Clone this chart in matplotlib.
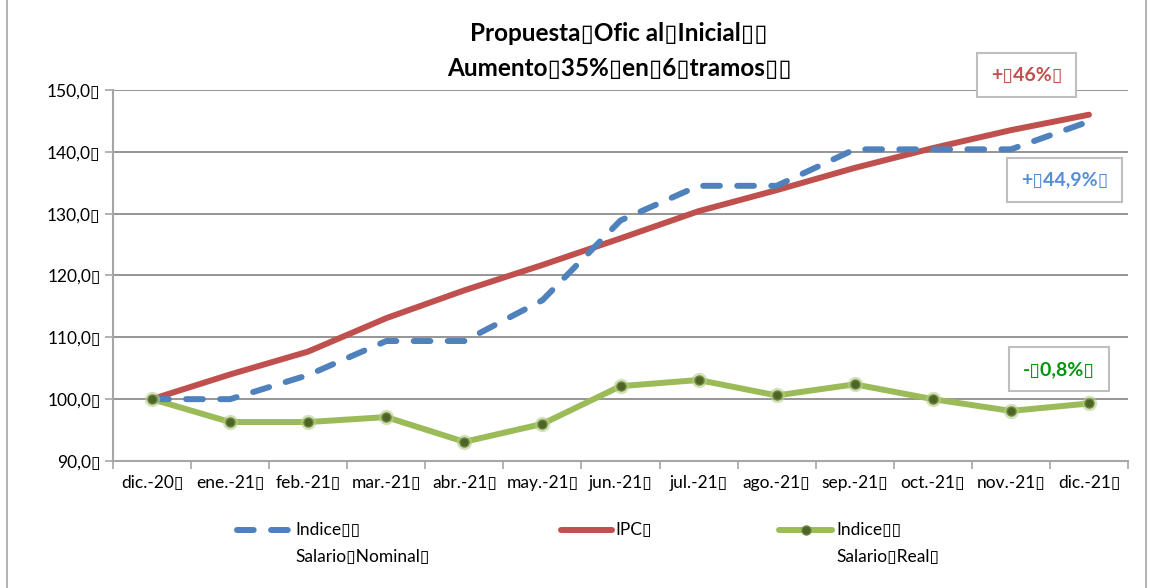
import matplotlib
matplotlib.use("Agg")
import matplotlib.pyplot as plt
from matplotlib.patches import Rectangle

plt.rcParams['font.family'] = ['Lato', 'DejaVu Sans']

B = "\u25af"
categories = ["dic.-20", "ene.-21", "feb.-21", "mar.-21", "abr.-21", "may.-21", "jun.-21",
              "jul.-21", "ago.-21", "sep.-21", "oct.-21", "nov.-21", "dic.-21"]
nominal = [100.0, 100.0, 103.9, 109.4, 109.4, 116.0, 128.9, 134.5, 134.5, 140.4, 140.4, 140.4, 144.9]
ipc = [100.0, 104.0, 107.7, 113.1, 117.6, 121.7, 126.0, 130.4, 133.8, 137.4, 140.6, 143.5, 146.0]
real = [100.0, 96.3, 96.3, 97.1, 93.1, 96.0, 102.1, 103.1, 100.6, 102.4, 100.0, 98.1, 99.3]
yticks = [90, 100, 110, 120, 130, 140, 150]

DASH = (2.8, 2.9)
fig = plt.figure(figsize=(11.51, 5.88), dpi=100)
fig.patches.append(Rectangle((0.006, -0.01), 0.99, 1.02, transform=fig.transFigure,
                             fill=False, edgecolor="#a6a6a6", linewidth=1.2))
ax = fig.add_axes([0.0982, 0.216, 0.8818, 0.631])

x = list(range(len(categories)))
ax.plot(x, ipc, color="#c0504d", linewidth=4.3, solid_capstyle="round", zorder=3)
ax.plot(x, nominal, color="#4f81bd", linewidth=4.3, dashes=DASH,
        dash_capstyle="round", zorder=4)
ax.plot(x, real, color="#9bbb59", linewidth=4.3, solid_capstyle="round", zorder=3)
ax.plot(x, real, linestyle="none", marker="o", markersize=11, markerfacecolor="#b5cc8e",
        markeredgecolor="none", alpha=0.6, zorder=4)
ax.plot(x, real, linestyle="none", marker="o", markersize=6.5, markerfacecolor="#4f6228",
        markeredgecolor="#6b8a35", markeredgewidth=1, zorder=5)

ax.set_xlim(-0.5, len(categories) - 0.5)
ax.set_ylim(90, 150)
ax.set_yticks(yticks)
ax.set_yticklabels([f"{v},0{B}" for v in yticks])
ax.set_xticks([i - 0.5 for i in range(len(categories) + 1)])
ax.set_xticklabels([])
ax.set_xticks(x, minor=True)
ax.set_xticklabels([c + B for c in categories], minor=True)
ax.tick_params(axis="x", which="minor", length=0, pad=10, labelsize=12.5)
ax.tick_params(axis="x", which="major", length=6, color="#a6a6a6", width=1.2)
ax.tick_params(axis="y", length=6, color="#a6a6a6", width=1.2, labelsize=12.5, pad=3)
ax.yaxis.grid(True, color="#8c8c8c", linewidth=1.3)
ax.set_axisbelow(True)
for s in ["top", "right"]:
    ax.spines[s].set_visible(False)
for s in ["left", "bottom"]:
    ax.spines[s].set_color("#a6a6a6")
    ax.spines[s].set_linewidth(1.5)

fig.text(0.538, 0.943, f"Propuesta{B}Ofic al{B}Inicial{B}{B}", ha="center", va="center",
         fontsize=17.5, fontweight="bold")
fig.text(0.538, 0.884, f"Aumento{B}35%{B}en{B}6{B}tramos{B}{B}", ha="center", va="center",
         fontsize=17.5, fontweight="bold")

def box(xf, yf, text, color):
    fig.text(xf, yf, text, ha="center", va="center", fontsize=14, fontweight="bold",
             color=color,
             bbox=dict(boxstyle="square,pad=0.7", facecolor="white", edgecolor="#bfbfbf",
                       linewidth=1.5))

box(0.892, 0.872, f"+{B}46%{B}", "#c0504d")
box(0.925, 0.694, f"+{B}44,9%{B}", "#558ed5")
box(0.920, 0.372, f"-{B}0,8%{B}", "#00960f")

# Legend
ly1, ly2 = 0.098, 0.052
fig.lines.append(plt.Line2D([0.206, 0.253], [ly1, ly1], transform=fig.transFigure,
                            color="#4f81bd", linewidth=4.3, dashes=DASH,
                            dash_capstyle="round"))
fig.text(0.257, ly1, f"Indice{B}{B}", va="center", fontsize=12.5)
fig.text(0.257, ly2, f"Salario{B}Nominal{B}", va="center", fontsize=12.5)
fig.lines.append(plt.Line2D([0.487, 0.532], [ly1, ly1], transform=fig.transFigure,
                            color="#c0504d", linewidth=4.3, solid_capstyle="round"))
fig.text(0.535, ly1, f"IPC{B}", va="center", fontsize=12.5)
fig.lines.append(plt.Line2D([0.677, 0.723], [ly1, ly1], transform=fig.transFigure,
                            color="#9bbb59", linewidth=4.3, solid_capstyle="round"))
fig.lines.append(plt.Line2D([0.700], [ly1], transform=fig.transFigure, marker="o",
                            markersize=6.5, markerfacecolor="#4f6228",
                            markeredgecolor="#6b8a35", markeredgewidth=1, linestyle="none"))
fig.text(0.727, ly1, f"Indice{B}{B}", va="center", fontsize=12.5)
fig.text(0.727, ly2, f"Salario{B}Real{B}", va="center", fontsize=12.5)

fig.savefig("out.png", dpi=100)
